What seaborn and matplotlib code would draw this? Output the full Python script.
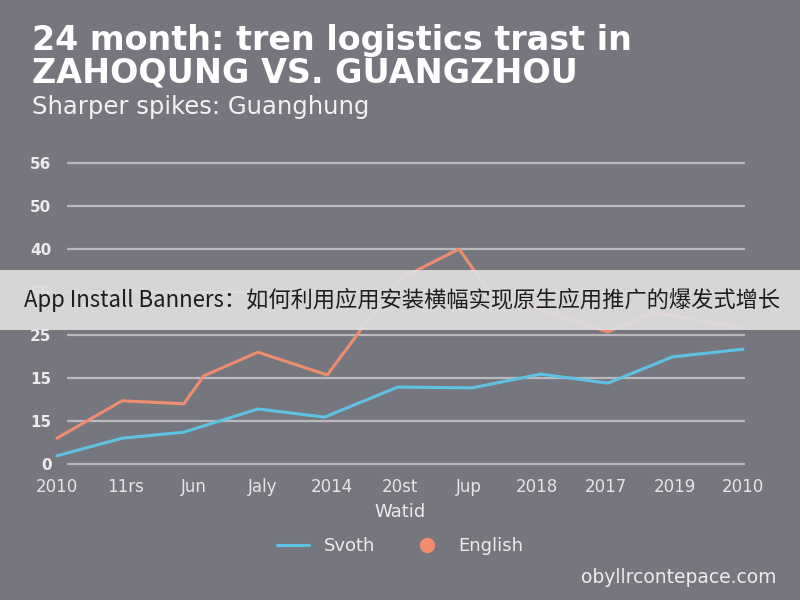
import numpy as np
import pandas as pd
import seaborn as sns
import matplotlib.pyplot as plt
from matplotlib.lines import Line2D
from matplotlib.patches import Rectangle

# --- Data ---
x_labels = ['2010', '11rs', 'Jun', 'Jaly', '2014', '20st', 'Jup', '2018', '2017', '2019', '2010']
y_ticks = [0, 10, 20, 30, 40, 50, 60, 70]
y_labels = ['0', '15', '15', '25', '55', '40', '50', '56']

blue_x = [0, 0.95, 1.85, 2.93, 3.9, 4.97, 6.05, 7.05, 8.03, 8.97, 10]
blue_y = [1.9, 6.0, 7.4, 12.8, 10.9, 17.9, 17.7, 20.9, 18.8, 24.9, 26.7]

orange_x = [0, 0.95, 1.85, 2.14, 2.93, 3.94, 4.97, 5.86, 6.3, 8.03, 8.69, 10]
orange_y = [6.0, 14.7, 14.0, 20.5, 26.0, 20.7, 42.8, 50.0, 40.0, 30.7, 35.3, 31.6]

BG = '#76767e'
BLUE = '#5ec3e2'
ORANGE = '#f08d6e'
GRID = '#b9b9be'

sns.set_theme(style='dark')
plt.rcParams['font.family'] = ['DejaVu Sans']

fig = plt.figure(figsize=(8, 6), dpi=100, facecolor=BG)
ax = fig.add_axes([0.0626, 0.2195, 0.8688, 0.5232])
ax.set_facecolor(BG)
ax.set_xlim(-0.1, 10.03)
ax.set_ylim(-1, 72)

# gridlines
ax.hlines(y_ticks, 0.15, 10.03, color=GRID, lw=1.6, zorder=1)

sns.lineplot(x=blue_x, y=blue_y, ax=ax, color=BLUE, lw=2.2, zorder=3)
sns.lineplot(x=orange_x, y=orange_y, ax=ax, color=ORANGE, lw=2.2, zorder=3)

ax.set_yticks(y_ticks)
ax.set_yticklabels(y_labels, fontsize=11, fontweight='bold', color='#ececec')
ax.set_xticks(range(len(x_labels)))
ax.set_xticklabels(x_labels, fontsize=12, color='#e6e6e6')
ax.tick_params(axis='y', length=0, pad=-1)
ax.tick_params(axis='x', length=0, pad=7)
for s in ax.spines.values():
    s.set_visible(False)
ax.grid(False)
ax.set_xlabel('')
ax.set_ylabel('')

# titles
fig.text(0.04, 0.917, '24 month: tren logistics trast in', fontsize=24,
         fontweight='bold', color='white', va='baseline')
fig.text(0.04, 0.862, 'ZAHOQUNG VS. GUANGZHOU', fontsize=24,
         fontweight='bold', color='white', va='baseline')
fig.text(0.04, 0.81, 'Sharper spikes: Guanghung', fontsize=17.5,
         color='#f2f2f2', va='baseline')

fig.text(0.5, 0.147, 'Watid', fontsize=13, color='#ececec', ha='center', va='center')

# legend
handles = [Line2D([], [], color=BLUE, lw=2.2),
           Line2D([], [], color=ORANGE, marker='o', ls='', markersize=10)]
fig.legend(handles, ['Svoth', 'English'], loc='center', bbox_to_anchor=(0.5, 0.09),
           ncol=2, frameon=False, fontsize=13, labelcolor='#ececec',
           handlelength=1.8, columnspacing=2.0)

fig.text(0.97, 0.037, 'obyllrcontepace.com', fontsize=13.5, color='#ececec',
         ha='right', va='center')

# overlay banner
fig.patches.append(Rectangle((0, 0.45), 1, 0.1, transform=fig.transFigure,
                             facecolor='#dededf', edgecolor='none', lw=0,
                             alpha=0.93, zorder=5))
fig.text(0.03, 0.5, 'App Install Banners：如何利用应用安装横幅实现原生应用推广的爆发式增长',
         fontsize=16, color='#1e1e1e', va='center', zorder=6,
         family=['Noto Sans CJK SC', 'DejaVu Sans'])

fig.savefig('out.png', dpi=100, facecolor=BG)
